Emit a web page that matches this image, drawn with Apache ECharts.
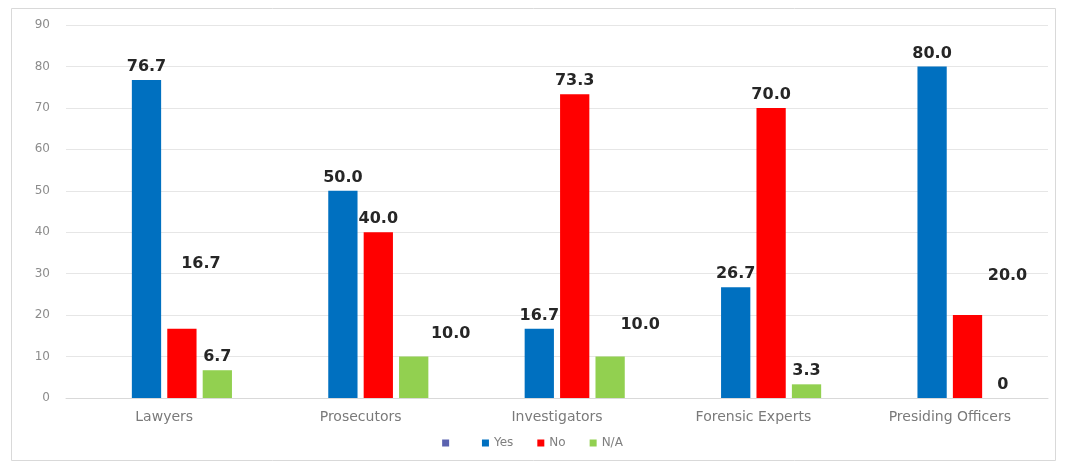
<!DOCTYPE html>
<html>
<head>
<meta charset="utf-8">
<script src="https://cdn.jsdelivr.net/npm/echarts@6/dist/echarts.min.js"></script>
<style>
  html, body { margin: 0; padding: 0; background: #ffffff; }
  #chart { width: 1065px; height: 466px; }
</style>
</head>
<body>
<div id="chart"></div>
<script>
// Survey responses by respondent group (percent)
const categories = ['Lawyers', 'Prosecutors', 'Investigators', 'Forensic Experts', 'Presiding Officers'];
const seriesNames = [' ', 'Yes', 'No', 'N/A'];
const blankValues = [];
const yesValues = [76.7, 50.0, 16.7, 26.7, 80.0];
const noValues = [16.7, 40.0, 73.3, 70.0, 20.0];
const naValues = [6.7, 10.0, 10.0, 3.3, 0];
const yTicks = [0, 10, 20, 30, 40, 50, 60, 70, 80, 90];

const colors = ['#5b63b0', '#0070C0', '#FF0000', '#92D050'];

// Hand-placed label nudges for a few bars: [seriesIndex, categoryIndex] -> [dx, dy]
const labelNudges = {
  '2-0': [19, -52],
  '3-1': [37, -10],
  '3-2': [30, -19],
  '2-4': [40, -26]
};

const labelStyle = {
  show: true,
  position: 'top',
  distance: 5,
  fontFamily: 'DejaVu Sans',
  fontWeight: 'bold',
  fontSize: 16,
  color: '#262626',
  formatter: p => (p.value === 0 ? '0' : Number(p.value).toFixed(1))
};

function buildData(values, sIdx) {
  return values.map((v, cIdx) => {
    const nudge = labelNudges[sIdx + '-' + cIdx];
    const item = { value: v };
    if (nudge) item.label = { offset: nudge };
    return item;
  });
}

const valueSets = [blankValues, yesValues, noValues, naValues];

const series = seriesNames.map((name, i) => ({
  name: name,
  type: 'bar',
  data: buildData(valueSets[i], i),
  itemStyle: { color: colors[i] },
  label: labelStyle,
  barGap: '21%',
  barCategoryGap: '31%'
}));

const chart = echarts.init(document.getElementById('chart'), null, { renderer: 'canvas' });
chart.setOption({
  animation: false,
  backgroundColor: '#ffffff',
  graphic: [{
    type: 'rect',
    shape: { x: 11.5, y: 8.5, width: 1044, height: 452 },
    style: { fill: 'none', stroke: '#d9d9d9', lineWidth: 1 },
    silent: true,
    z: -1
  }],
  grid: { left: 66, right: 17, top: 25, bottom: 68 },
  legend: {
    data: seriesNames,
    bottom: 12,
    left: 'center',
    icon: 'rect',
    itemWidth: 7,
    itemHeight: 7,
    itemGap: 24,
    textStyle: { fontFamily: 'DejaVu Sans', fontSize: 12, color: '#7f7f7f' }
  },
  xAxis: {
    type: 'category',
    data: categories,
    axisLine: { lineStyle: { color: '#d9d9d9' } },
    axisTick: { show: false },
    axisLabel: { fontFamily: 'DejaVu Sans', fontSize: 14, color: '#7a7a7a', margin: 12 }
  },
  yAxis: {
    type: 'value',
    min: yTicks[0],
    max: yTicks[yTicks.length - 1],
    interval: yTicks[1] - yTicks[0],
    axisLine: { show: false },
    axisTick: { show: false },
    splitLine: { lineStyle: { color: '#e6e6e6' } },
    axisLabel: { fontFamily: 'DejaVu Sans', fontSize: 12, color: '#8c8c8c', margin: 16 }
  },
  series: series
});
</script>
</body>
</html>
